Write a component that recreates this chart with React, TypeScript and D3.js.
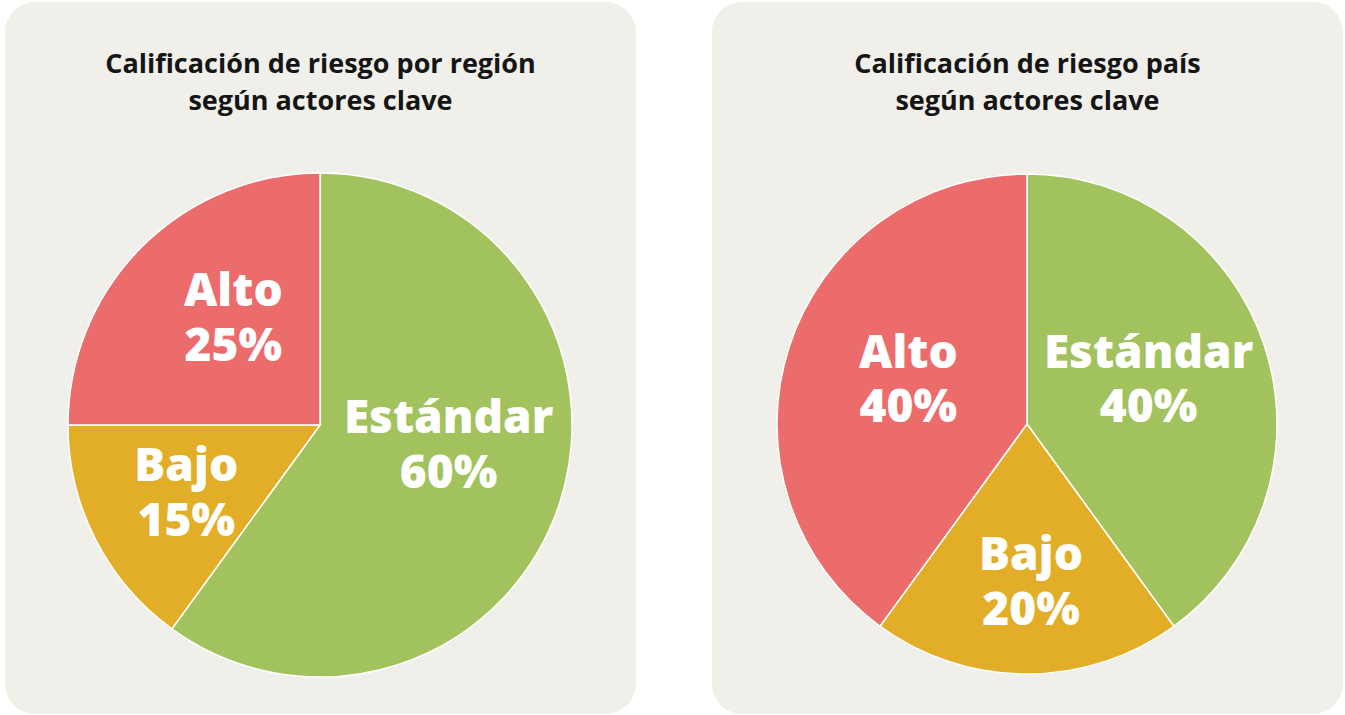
import { arc, pie } from 'd3';

const categories = ['Estándar', 'Bajo', 'Alto'];
const regionValues = [60, 15, 25];
const paisValues = [40, 20, 40];
const titles = [
  ['Calificación de riesgo por región', 'según actores clave'],
  ['Calificación de riesgo país', 'según actores clave'],
];

const colors: Record<string, string> = {
  'Estándar': '#a2c25e',
  'Bajo': '#e2ae27',
  'Alto': '#ec6b6b',
};

const width = 1345;
const height = 715;
const panels = [
  { x: 5, values: regionValues, cx: 320, cy: 425, r: 252 },
  { x: 712, values: paisValues, cx: 1027, cy: 424, r: 250 },
];
const panelW = 631;
const panelTop = 2;
const panelH = 712;

// hand nudges so labels sit where the original puts them
const nudge: Record<string, [number, number]>[] = [
  { 'Estándar': [4, -22], 'Bajo': [-17, 7], 'Alto': [6, -16] },
  { 'Estándar': [-2, -6], 'Bajo': [4, 26], 'Alto': [5, -6] },
];

const font = '"Open Sans", Lato, sans-serif';

function App() {
  const layout = pie<number>().sort(null).value(d => d);

  return (
    <div style={{ position: 'fixed', left: 0, top: 0 }}>
      <svg width={width} height={height} style={{ display: 'block', background: '#fff' }}>
        {panels.map((p, pi) => {
          const slices = layout(p.values);
          const path = arc<any>().innerRadius(0).outerRadius(p.r);
          const labelArc = arc<any>().innerRadius(0).outerRadius(p.r * 1.04);
          const midX = p.x + panelW / 2;
          return (
            <g key={pi}>
              <rect x={p.x} y={panelTop} width={panelW} height={panelH} rx={30} fill='#f0efe9' />
              {titles[pi].map((t, i) => (
                <text
                  key={i}
                  x={midX}
                  y={73 + i * 37}
                  textAnchor='middle'
                  fontFamily={font}
                  fontWeight={700}
                  fontSize={27}
                  fill='#151515'
                >
                  {t}
                </text>
              ))}
              <g transform={`translate(${p.cx}, ${p.cy})`}>
                {slices.map((s, i) => (
                  <path key={i} d={path(s) ?? ''} fill={colors[categories[i]]} stroke='#fff' strokeWidth={1.5} />
                ))}
                {slices.map((s, i) => {
                  const [lx, ly] = labelArc.centroid(s);
                  const [nx, ny] = nudge[pi][categories[i]];
                  return (
                    <text
                      key={'l' + i}
                      x={lx + nx}
                      y={ly + ny}
                      textAnchor='middle'
                      fontFamily={font}
                      fontWeight={800}
                      fontSize={46}
                      fill='#fff'
                    >
                      <tspan x={lx + nx} dy='-0.22em'>{categories[i]}</tspan>
                      <tspan x={lx + nx} dy='1.19em'>{p.values[i]}%</tspan>
                    </text>
                  );
                })}
              </g>
            </g>
          );
        })}
      </svg>
    </div>
  );
}

export default App;
